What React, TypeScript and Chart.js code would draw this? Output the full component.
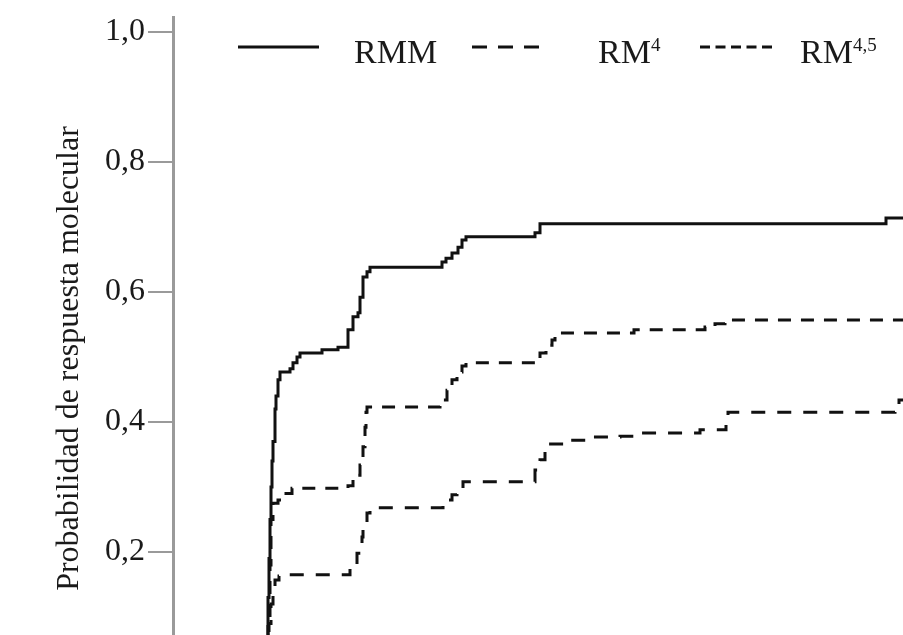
import React, { useEffect, useRef } from 'react';
import { Chart, registerables } from 'chart.js';

Chart.register(...registerables);

// ---- Data (x: time units, y: probability) ----
const rmmX = [9.2, 9.4, 9.5, 9.6, 9.7, 9.8, 9.9, 10.0, 10.2, 10.3, 10.5, 10.7, 11.7, 12.0, 12.4, 12.7, 14.9, 16.5, 17.5, 18.0, 18.5, 18.7, 19.0, 19.4, 19.7, 26.9, 27.3, 27.9, 28.5, 28.9, 29.3, 36.2, 36.7, 71.3, 73];
const rmmY = [0, 0.07, 0.13, 0.19, 0.25, 0.30, 0.34, 0.37, 0.42, 0.44, 0.465, 0.477, 0.482, 0.491, 0.50, 0.506, 0.511, 0.515, 0.542, 0.562, 0.568, 0.592, 0.623, 0.631, 0.638, 0.646, 0.652, 0.66, 0.669, 0.68, 0.685, 0.691, 0.705, 0.714, 0.714];

const rm4X = [9.3, 9.5, 9.7, 9.8, 10.0, 10.5, 11.0, 11.9, 17.5, 18.0, 18.7, 19.0, 19.2, 19.3, 19.4, 26.7, 27.4, 27.9, 28.4, 28.9, 29.3, 36.7, 37.3, 37.9, 38.2, 46.1, 53.2, 54.2, 55.2, 73];
const rm4Y = [0, 0.10, 0.18, 0.25, 0.275, 0.28, 0.29, 0.298, 0.302, 0.318, 0.334, 0.362, 0.392, 0.415, 0.423, 0.434, 0.449, 0.465, 0.477, 0.486, 0.491, 0.506, 0.518, 0.526, 0.537, 0.542, 0.546, 0.551, 0.557, 0.557];

const rm45X = [9.4, 9.6, 9.8, 10.0, 10.2, 10.6, 11.0, 17.7, 18.4, 18.9, 19.0, 19.4, 19.7, 27.0, 27.4, 27.9, 28.4, 29.0, 36.2, 36.7, 37.2, 37.6, 39.7, 41.7, 44.7, 46.7, 52.7, 55.3, 55.5, 72.2, 72.6, 73];
const rm45Y = [0, 0.09, 0.12, 0.14, 0.157, 0.163, 0.165, 0.177, 0.198, 0.223, 0.245, 0.26, 0.268, 0.272, 0.28, 0.288, 0.295, 0.308, 0.326, 0.342, 0.357, 0.366, 0.372, 0.377, 0.378, 0.383, 0.388, 0.403, 0.415, 0.426, 0.434, 0.434];

const yTicks = [0.2, 0.4, 0.6, 0.8, 1.0];
const yTitle = 'Probabilidad de respuesta molecular';
const legendBase = ['RMM', 'RM', 'RM'];
const legendSup = ['', '4', '4,5'];

const FONT = '"Liberation Serif", "Times New Roman", serif';

export default function App() {
  const ref = useRef<HTMLCanvasElement>(null);

  useEffect(() => {
    const toPts = (xs: number[], ys: number[]) => xs.map((x, i) => ({ x, y: ys[i] }));

    const legendPlugin = {
      id: 'customLegend',
      afterDraw(chart: any) {
        const ctx = chart.ctx as CanvasRenderingContext2D;
        const lineStart = [238, 472, 700];
        const lineEnd = [319, 540, 772];
        const textStart = [354, 598, 800];
        const legendDash = [[], [15, 11], [10, 5.5]];
        const lineY = 47;
        const baseY = 63;
        ctx.save();
        for (let i = 0; i < 3; i++) {
          ctx.beginPath();
          ctx.setLineDash(legendDash[i]);
          ctx.strokeStyle = '#111';
          ctx.lineWidth = 3;
          ctx.moveTo(lineStart[i], lineY);
          ctx.lineTo(lineEnd[i], lineY);
          ctx.stroke();
          ctx.setLineDash([]);
          ctx.fillStyle = '#1a1a1a';
          ctx.textBaseline = 'alphabetic';
          ctx.textAlign = 'left';
          ctx.font = `34px ${FONT}`;
          ctx.fillText(legendBase[i], textStart[i], baseY);
          if (legendSup[i]) {
            const w = ctx.measureText(legendBase[i]).width;
            ctx.font = `19px ${FONT}`;
            ctx.fillText(legendSup[i], textStart[i] + w, baseY - 12);
          }
        }
        ctx.restore();
      },
    };

    const chart = new Chart(ref.current as HTMLCanvasElement, {
      type: 'line',
      data: {
        datasets: [
          { label: 'RMM', data: toPts(rmmX, rmmY), borderColor: '#111', borderWidth: 3, pointRadius: 0, stepped: 'before', fill: false },
          { label: 'RM4', data: toPts(rm4X, rm4Y), borderColor: '#111', borderWidth: 3, borderDash: [13, 10], pointRadius: 0, stepped: 'before', fill: false },
          { label: 'RM4,5', data: toPts(rm45X, rm45Y), borderColor: '#111', borderWidth: 3, borderDash: [14, 12], pointRadius: 0, stepped: 'before', fill: false },
        ],
      },
      options: {
        animation: false,
        responsive: true,
        maintainAspectRatio: false,
        layout: { padding: { top: 17, left: 0, right: 0, bottom: 0 } },
        plugins: { legend: { display: false }, tooltip: { enabled: false } },
        scales: {
          x: { type: 'linear', display: false, min: 0, max: 73 },
          y: {
            type: 'linear',
            min: -0.0277,
            max: 1.0231,
            afterBuildTicks: (s: any) => {
              s.ticks = yTicks.map((v) => ({ value: v }));
            },
            afterFit: (s: any) => {
              s.width = 173;
              s.paddingTop = 0;
              s.paddingBottom = 0;
            },
            border: { display: true, color: '#9a9a9a', width: 3 },
            grid: { drawOnChartArea: false, drawTicks: true, tickLength: 25, color: '#9a9a9a', lineWidth: 2 },
            ticks: {
              padding: 3,
              color: '#1a1a1a',
              font: { size: 32, family: FONT },
              callback: (v: any) => Number(v).toFixed(1).replace('.', ','),
            },
            title: {
              display: true,
              text: yTitle,
              color: '#1a1a1a',
              font: { size: 32, family: FONT },
              padding: { top: 50, bottom: 0 },
            },
          },
        },
      },
      plugins: [legendPlugin],
    } as any);

    return () => chart.destroy();
  }, []);

  return (
    <div style={{ position: 'fixed', left: 0, top: 0, width: 903, height: 635, overflow: 'hidden', background: '#fff' }}>
      <div style={{ position: 'relative', width: 903, height: 700 }}>
        <canvas ref={ref} />
      </div>
    </div>
  );
}
